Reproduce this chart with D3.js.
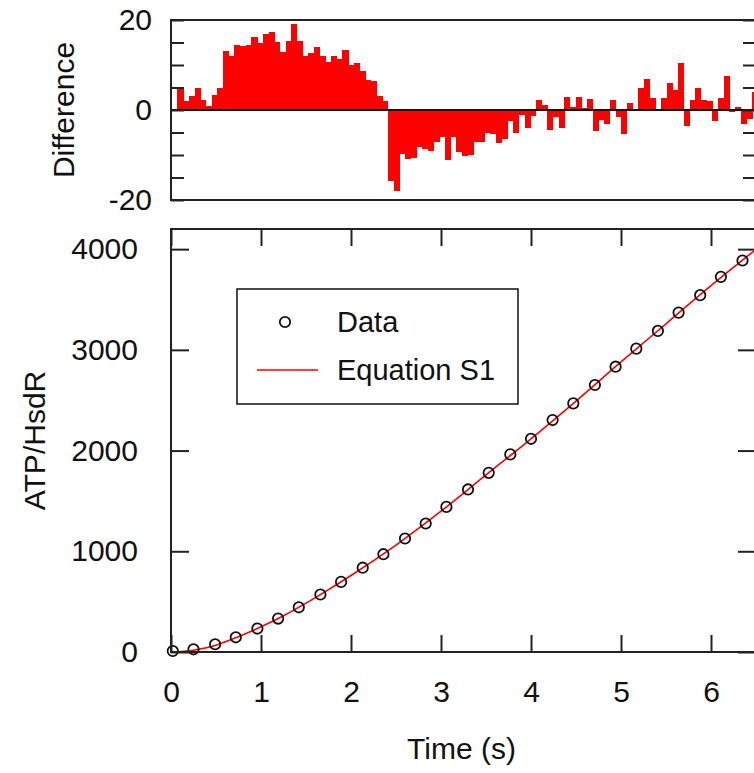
<!DOCTYPE html>
<html>
<head>
<meta charset="utf-8">
<script src="https://cdn.jsdelivr.net/npm/d3@7/dist/d3.min.js"></script>
<style>
  body { margin: 0; background: #fff; }
  text { font-family: "Liberation Sans", Arial, sans-serif; fill: #111; }
</style>
</head>
<body>
<div class="container"></div>
<script>
// measured points (circles)
var timeData = [0.02, 0.25, 0.49, 0.72, 0.96, 1.19, 1.42, 1.66, 1.89, 2.13, 2.36, 2.60, 2.83, 3.06,
                3.30, 3.53, 3.77, 4.00, 4.24, 4.47, 4.71, 4.94, 5.17, 5.41, 5.64, 5.88, 6.11, 6.35];
var atpData = [10, 27, 77, 146, 233, 332, 444, 571, 696, 837, 971, 1127, 1276, 1441,
               1614, 1779, 1962, 2117, 2303, 2469, 2651, 2833, 3012, 3188, 3370, 3543, 3725, 3887];

// Equation S1 curve
var fitTime = [0, 0.25, 0.5, 0.75, 1, 1.25, 1.5, 1.75, 2, 2.5, 3, 3.5, 4, 4.5, 5, 5.5, 6, 6.5];
var fitATP = [0, 18, 68, 152, 250, 360, 485, 620, 760, 1062, 1398, 1758, 2117, 2492, 2880, 3259, 3638, 3998];

// residuals (top panel bars)
var diff = [5.0, 1.9, 3.1, 4.9, 2.2, 1.0, 3.4, 5.0, 13.1, 11.9, 14.4, 14.2, 14.4, 16.2, 14.9, 17.0,
            17.4, 15.1, 12.8, 15.3, 19.2, 15.3, 12.0, 12.7, 14.0, 11.9, 10.6, 11.9, 11.3, 13.4, 9.9, 10.4,
            8.7, 6.7, 6.5, 3.1, 2.0, -15.7, -18.1, -9.8, -10.8, -10.7, -8.3, -8.6, -9.1, -7.2, -6.0, -11.1,
            -6.0, -9.3, -10.2, -10.1, -7.0, -7.0, -5.0, -5.4, -7.3, -6.5, -2.5, -5.0, -1.2, -4.1, -1.4, 2.2,
            1.2, -4.5, -1.6, -4.1, 3.0, 0.6, 2.8, 0.5, 2.4, -4.7, -2.3, -3.0, 2.3, -1.6, -5.3, 1.6,
            0.2, 5.0, 7.0, 2.6, 0.3, 2.7, 6.1, 4.5, 10.5, -3.6, 2.2, 5.0, 2.3, 2.0, -2.5, 2.7,
            7.6, -0.4, 0.7, -3.2, -2.1, 3.9];
var diffTimeRange = [0.072, 6.52];

var xTicks = [0, 1, 2, 3, 4, 5, 6];
var yTicks = [0, 1000, 2000, 3000, 4000];
var dTicks = [-20, -15, -10, -5, 0, 5, 10, 15, 20];
var dLabels = [-20, 0, 20];

var W = 754, H = 773;
var left = 171, right = 756;

var svg = d3.select('.container')
    .append('svg')
    .attr('width', W)
    .attr('height', H);

var x = d3.scaleLinear().domain([0, 6.5]).range([left, right]);
var yD = d3.scaleLinear().domain([-20, 20]).range([200, 20]);
var y = d3.scaleLinear().domain([0, 4200]).range([652, 229]);

function styleAxis(g, size) {
    g.select('.domain').remove();
    g.selectAll('line').style('stroke', '#222').style('stroke-width', 2);
    g.selectAll('text').style('font-size', size + 'px').style('font-family', '"Liberation Sans", Arial, sans-serif').style('fill', '#111');
}

// ---------- top panel ----------
var band = d3.scaleBand()
    .domain(d3.range(diff.length))
    .range([x(diffTimeRange[0]), x(diffTimeRange[1])])
    .paddingInner(0);

svg.append('g')
    .selectAll('rect')
    .data(diff)
    .enter()
    .append('rect')
    .attr('x', (d, i) => band(i))
    .attr('width', band.bandwidth() + 0.4)
    .attr('y', d => yD(Math.max(0, d)))
    .attr('height', d => Math.abs(yD(d) - yD(0)))
    .style('fill', '#ff0000')
    .style('shape-rendering', 'crispEdges');

svg.append('line')
    .attr('x1', left).attr('x2', right)
    .attr('y1', yD(0)).attr('y2', yD(0))
    .style('stroke', '#111').style('stroke-width', 2);

var dLeft = svg.append('g')
    .attr('transform', 'translate(' + left + ',0)')
    .call(d3.axisLeft(yD).tickValues(dTicks).tickSizeInner(-13).tickSizeOuter(0).tickPadding(19)
        .tickFormat(d => dLabels.indexOf(d) >= 0 ? String(d) : ''));
styleAxis(dLeft, 30);

var dRight = svg.append('g')
    .attr('transform', 'translate(' + right + ',0)')
    .call(d3.axisRight(yD).tickValues(dTicks).tickSizeInner(-13).tickSizeOuter(0).tickFormat(''));
styleAxis(dRight, 30);

svg.append('rect')
    .attr('x', left).attr('y', yD(20))
    .attr('width', right - left).attr('height', yD(-20) - yD(20))
    .style('fill', 'none').style('stroke', '#222').style('stroke-width', 2);

svg.append('text')
    .attr('transform', 'translate(74,' + yD(0) + ') rotate(-90)')
    .attr('text-anchor', 'middle')
    .style('font-size', '30px')
    .text('Difference');

// ---------- bottom panel ----------
var fitLine = d3.line()
    .x((d, i) => x(fitTime[i]))
    .y(d => y(d))
    .curve(d3.curveMonotoneX);

svg.append('path')
    .datum(fitATP)
    .attr('d', fitLine)
    .style('fill', 'none')
    .style('stroke', '#ff0000')
    .style('stroke-width', 1.6);

svg.append('g')
    .selectAll('circle')
    .data(atpData)
    .enter()
    .append('circle')
    .attr('cx', (d, i) => x(timeData[i]))
    .attr('cy', d => y(d))
    .attr('r', 5.2)
    .style('fill', 'none')
    .style('stroke', '#111')
    .style('stroke-width', 1.8);

var yLeft = svg.append('g')
    .attr('transform', 'translate(' + left + ',0)')
    .call(d3.axisLeft(y).tickValues(yTicks).tickSizeInner(-18).tickSizeOuter(0).tickPadding(33)
        .tickFormat(d => String(d)));
styleAxis(yLeft, 30);

var yRight = svg.append('g')
    .attr('transform', 'translate(' + right + ',0)')
    .call(d3.axisRight(y).tickValues(yTicks).tickSizeInner(-18).tickSizeOuter(0).tickFormat(''));
styleAxis(yRight, 30);

var xBottom = svg.append('g')
    .attr('transform', 'translate(0,' + y(0) + ')')
    .call(d3.axisBottom(x).tickValues(xTicks).tickSizeInner(-17).tickSizeOuter(0).tickPadding(29)
        .tickFormat(d => String(d)));
styleAxis(xBottom, 30);

var xTop = svg.append('g')
    .attr('transform', 'translate(0,' + y(4200) + ')')
    .call(d3.axisTop(x).tickValues(xTicks).tickSizeInner(-17).tickSizeOuter(0).tickFormat(''));
styleAxis(xTop, 30);

svg.append('rect')
    .attr('x', left).attr('y', y(4200))
    .attr('width', right - left).attr('height', y(0) - y(4200))
    .style('fill', 'none').style('stroke', '#222').style('stroke-width', 2);

svg.append('text')
    .attr('x', (x(0) + x(6.5)) / 2 - 2)
    .attr('y', 759)
    .attr('text-anchor', 'middle')
    .style('font-size', '30px')
    .text('Time (s)');

svg.append('text')
    .attr('transform', 'translate(45,' + (y(0) + y(4200)) / 2 + ') rotate(-90)')
    .attr('text-anchor', 'middle')
    .style('font-size', '30px')
    .text('ATP/HsdR');

// legend
var lg = svg.append('g');
lg.append('rect')
    .attr('x', 237).attr('y', 289)
    .attr('width', 281).attr('height', 115)
    .style('fill', '#fff').style('stroke', '#111').style('stroke-width', 1.5);
lg.append('circle')
    .attr('cx', 285).attr('cy', 322).attr('r', 5.2)
    .style('fill', 'none').style('stroke', '#111').style('stroke-width', 1.8);
lg.append('line')
    .attr('x1', 257).attr('x2', 318)
    .attr('y1', 370).attr('y2', 370)
    .style('stroke', '#ff0000').style('stroke-width', 1.6);
lg.append('text')
    .attr('x', 337).attr('y', 322).attr('dy', '0.35em')
    .style('font-size', '29px')
    .text('Data');
lg.append('text')
    .attr('x', 337).attr('y', 370).attr('dy', '0.35em')
    .style('font-size', '29px')
    .text('Equation S1');
</script>
</body>
</html>
